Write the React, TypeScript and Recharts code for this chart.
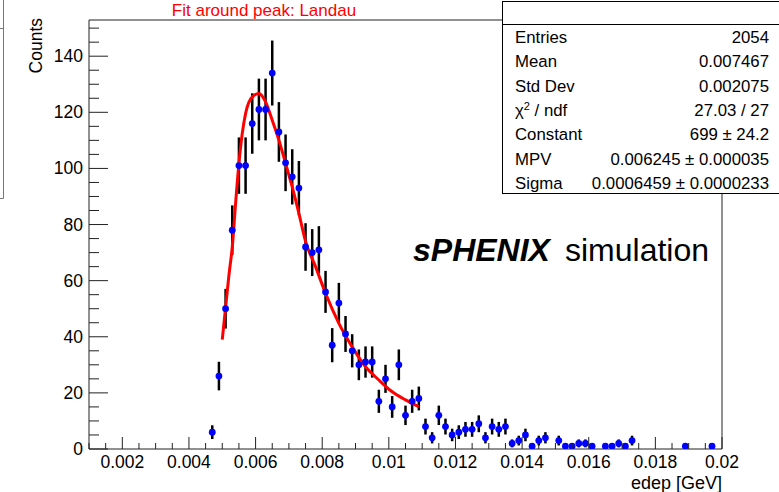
import React from 'react';
import {
  ComposedChart,
  Scatter,
  Line,
  XAxis,
  YAxis,
  ErrorBar,
  ReferenceLine,
} from 'recharts';

// histogram bin centres (GeV) and counts, non-empty bins only
const binCenters = [
  0.0047, 0.0049, 0.0051, 0.0053, 0.0055, 0.0057, 0.0059, 0.0061, 0.0063, 0.0065,
  0.0067, 0.0069, 0.0071, 0.0073, 0.0075, 0.0077, 0.0079, 0.0081, 0.0083, 0.0085,
  0.0087, 0.0089, 0.0091, 0.0093, 0.0095, 0.0097, 0.0099, 0.0101, 0.0103, 0.0105,
  0.0107, 0.0109, 0.0111, 0.0113, 0.0115, 0.0117, 0.0119, 0.0121, 0.0123, 0.0125,
  0.0127, 0.0129, 0.0131, 0.0133, 0.0135, 0.0137, 0.0139, 0.0141, 0.0143, 0.0145,
  0.0147, 0.0151, 0.0153, 0.0155, 0.0157, 0.0159, 0.0161, 0.0165, 0.0167, 0.0169,
  0.0171, 0.0173, 0.0189, 0.0197,
];
const counts = [
  6, 26, 50, 78, 101, 101, 116, 121, 121, 134,
  113, 102, 97, 93, 72, 70, 71, 56, 37, 52,
  41, 35, 30, 31, 31, 17, 25, 15, 30, 12,
  17, 18, 8, 4, 12, 8, 5, 6, 7, 7,
  9, 4, 8, 7, 8, 2, 3, 5, 1, 3,
  4, 3, 1, 1, 2, 2, 1, 1, 1, 2,
  1, 3, 1, 1,
];

// Landau fit curve
const fitX = [
  0.005, 0.0052, 0.0053, 0.0054, 0.0055, 0.0056, 0.0057, 0.0059, 0.0061, 0.0063,
  0.0065, 0.0067, 0.0069, 0.0071, 0.0073, 0.0075, 0.0078, 0.0081, 0.0085, 0.0089,
  0.0093, 0.0097, 0.0101, 0.0105, 0.0109,
];
const fitY = [
  39, 62, 72, 87.5, 101.8, 112.5, 119.6, 125.5, 126.7, 123.7,
  117.2, 110.1, 101.8, 93.4, 84, 74, 65, 55.5, 44.8, 36.4,
  29.3, 24.6, 20.4, 17.5, 15.1,
];

const xTickLabels = ['0.002', '0.004', '0.006', '0.008', '0.01', '0.012', '0.014', '0.016', '0.018', '0.02'];
const yTickLabels = ['0', '20', '40', '60', '80', '100', '120', '140'];

const statsNames = ['Entries', 'Mean', 'Std Dev', 'chi2', 'Constant', 'MPV', 'Sigma'];
const statsValues = ['2054', '0.007467', '0.002075', '27.03 / 27', '699 ± 24.2', '0.006245 ± 0.000035', '0.0006459 ± 0.0000233'];

const X_MIN = 0.001;
const X_MAX = 0.02;
const Y_MAX = 152.9;
const FONT = '"Liberation Sans", Arial, Helvetica, sans-serif';

const histData = binCenters.map((x, i) => ({ x, y: counts[i], err: Math.sqrt(counts[i]) }));
const fitData = fitX.map((x, i) => ({ x, y: fitY[i] }));

// minor ticks every 0.0005, majors every 0.002
const xTicks: number[] = [];
for (let i = 2; i <= 40; i++) xTicks.push(i * 0.0005);
const yTicks: number[] = [];
for (let v = 0; v <= 150; v += 5) yTicks.push(v);

function XTick(props: any) {
  const { x, y, payload } = props;
  const k = Math.round(payload.value / 0.002);
  const major = Math.abs(payload.value - k * 0.002) < 1e-9;
  return (
    <g>
      <line x1={x} x2={x} y1={y} y2={y - (major ? 12 : 6)} stroke="#222" />
      {major && (
        <text x={x} y={y + 19} textAnchor="middle" fontSize={17.5} fontFamily={FONT} fill="#000">
          {xTickLabels[k - 1]}
        </text>
      )}
    </g>
  );
}

function YTick(props: any) {
  const { x, y, payload } = props;
  const major = payload.value % 20 === 0;
  return (
    <g>
      <line x1={x} x2={x + (major ? 19 : 10)} y1={y} y2={y} stroke="#222" />
      {major && (
        <text x={x - 6} y={y + 6} textAnchor="end" fontSize={17.5} fontFamily={FONT} fill="#000">
          {yTickLabels[payload.value / 20]}
        </text>
      )}
    </g>
  );
}

const Dot = (props: any) => <circle cx={props.cx} cy={props.cy} r={3.4} fill="#0000ff" />;

export default function App() {
  return (
    <div style={{ position: 'absolute', left: 0, top: 0, width: 779, height: 492, background: '#fff' }}>
      <ComposedChart width={779} height={492} margin={{ top: 20, right: 57, bottom: 0, left: 0 }}>
        <XAxis
          type="number"
          dataKey="x"
          domain={[X_MIN, X_MAX]}
          allowDataOverflow
          ticks={xTicks}
          interval={0}
          height={43}
          tickSize={0}
          tickMargin={0}
          tickLine={false}
          tick={<XTick />}
          axisLine={{ stroke: '#222' }}
        />
        <YAxis
          type="number"
          dataKey="y"
          domain={[0, Y_MAX]}
          allowDataOverflow
          ticks={yTicks}
          interval={0}
          width={89}
          tickSize={0}
          tickMargin={0}
          tickLine={false}
          tick={<YTick />}
          axisLine={{ stroke: '#222' }}
        />
        <ReferenceLine y={Y_MAX} stroke="#222" ifOverflow="extendDomain" />
        <ReferenceLine x={X_MAX} stroke="#222" ifOverflow="extendDomain" />
        <Scatter data={histData} dataKey="y" shape={<Dot />} isAnimationActive={false}>
          <ErrorBar dataKey="err" direction="y" width={0} stroke="#000" strokeWidth={2.5} />
        </Scatter>
        <Line
          data={fitData}
          dataKey="y"
          type="monotone"
          stroke="#ff0000"
          strokeWidth={3}
          dot={false}
          activeDot={false}
          isAnimationActive={false}
        />
      </ComposedChart>

      <svg width={779} height={492} style={{ position: 'absolute', left: 0, top: 0, pointerEvents: 'none' }} fontFamily={FONT}>
        {/* edge of a neighbouring box */}
        <path d="M0 28.5 H3.5 M3.5 0 V198.5 M0 198.5 H3.5" stroke="#777" fill="none" />

        <text x={264} y={16} textAnchor="middle" fontSize={17} fill="#ff0000">Fit around peak: Landau</text>

        <text transform="translate(42,18) rotate(-90)" textAnchor="end" fontSize={17.5} fill="#000">Counts</text>
        <text x={722} y={489} textAnchor="end" fontSize={18} fill="#000">edep [GeV]</text>

        <text x={413} y={261} fontSize={32} fontWeight="bold" fontStyle="italic" fill="#000">sPHENIX</text>
        <text x={565} y={261} fontSize={32} fill="#000">simulation</text>

        <rect x={502.5} y={1.5} width={300} height={192} fill="#fff" stroke="#000" />
        <line x1={502.5} x2={779} y1={24.5} y2={24.5} stroke="#000" />
        {statsNames.map((name, i) => {
          const y = 43 + i * 24.3;
          return (
            <g key={name}>
              {name === 'chi2' ? (
                <text x={515} y={y} fontSize={16.8} fill="#000">
                  χ<tspan dy={-6} fontSize={11}>2</tspan>
                  <tspan dy={6}> / ndf</tspan>
                </text>
              ) : (
                <text x={515} y={y} fontSize={16.8} fill="#000">{name}</text>
              )}
              <text x={769} y={y} textAnchor="end" fontSize={16.8} fill="#000">{statsValues[i]}</text>
            </g>
          );
        })}
      </svg>
    </div>
  );
}
